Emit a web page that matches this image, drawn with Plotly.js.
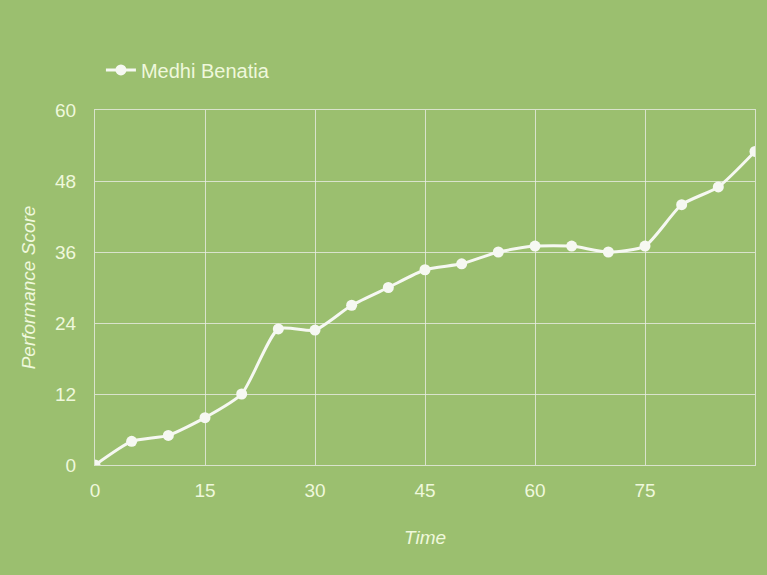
<!DOCTYPE html>
<html>
<head>
<meta charset="utf-8">
<script src="https://cdn.plot.ly/plotly-3.0.1.min.js"></script>
<style>html,body{margin:0;padding:0;background:#9bbf6f;}#chart{width:767px;height:575px;}</style>
</head>
<body>
<div id="chart"></div>
<script>
const seriesName = "Medhi Benatia";
const timeValues = [0, 5, 10, 15, 20, 25, 30, 35, 40, 45, 50, 55, 60, 65, 70, 75, 80, 85, 90];
const scoreValues = [0, 4, 5, 8, 12, 23, 22.8, 27, 30, 33, 34, 36, 37, 37, 36, 37, 44, 47, 53];
const xTickValues = [0, 15, 30, 45, 60, 75];
const yTickValues = [0, 12, 24, 36, 48, 60];
const xTitle = "Time";
const yTitle = "Performance Score";

const textColor = "#eff8dc";
const gridColor = "rgba(232,236,228,0.8)";

const trace = {
  x: timeValues,
  y: scoreValues,
  name: seriesName,
  type: "scatter",
  mode: "lines+markers",
  line: {color: "#f6f8f2", width: 3, shape: "spline", smoothing: 0.6},
  marker: {color: "#f6f8f2", size: 11},
  showlegend: true
};

const layout = {
  width: 767,
  height: 575,
  paper_bgcolor: "#9bbf6f",
  plot_bgcolor: "#9bbf6f",
  margin: {l: 95, r: 12, t: 110, b: 110},
  font: {family: "Liberation Sans, Arial, sans-serif", color: textColor, size: 18},
  showlegend: true,
  legend: {
    orientation: "h",
    x: 0.009, xanchor: "left",
    y: 1.113, yanchor: "middle",
    font: {size: 20, color: textColor},
    bgcolor: "rgba(0,0,0,0)"
  },
  xaxis: {
    range: [0, 90],
    tickvals: xTickValues,
    ticktext: xTickValues.map(String),
    showgrid: true,
    gridcolor: gridColor,
    gridwidth: 1,
    zeroline: false,
    showline: true,
    mirror: true,
    linecolor: gridColor,
    linewidth: 1,
    ticks: "",
    ticklabelstandoff: 8,
    tickfont: {size: 19, color: textColor},
    title: {text: "<i>" + xTitle + "</i>", font: {size: 19, color: textColor}, standoff: 30}
  },
  yaxis: {
    range: [0, 60],
    tickvals: yTickValues,
    showgrid: true,
    gridcolor: gridColor,
    gridwidth: 1,
    zeroline: false,
    showline: true,
    mirror: true,
    linecolor: gridColor,
    linewidth: 1,
    ticks: "",
    ticklabelstandoff: 14,
    tickfont: {size: 19, color: textColor},
    title: {text: "<i>" + yTitle + "</i>", font: {size: 19, color: textColor}, standoff: 14}
  }
};

Plotly.newPlot("chart", [trace], layout, {displayModeBar: false, staticPlot: true});
</script>
</body>
</html>
